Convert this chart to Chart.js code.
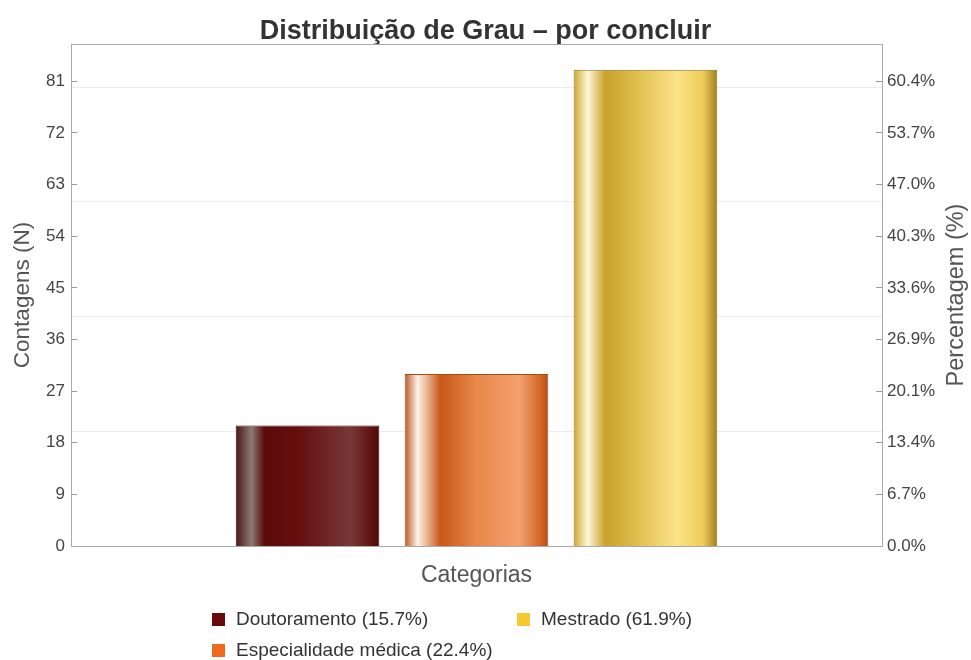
<!DOCTYPE html>
<html>
<head>
<meta charset="utf-8">
<script src="https://cdn.jsdelivr.net/npm/chart.js@4.4.1/dist/chart.umd.min.js"></script>
<style>
  body { margin: 0; background: #fff; }
  #wrap { position: relative; width: 971px; height: 660px; }
  #legend {
    position: absolute; left: 212px; top: 607px;
    display: grid; grid-template-rows: 24px 24px; grid-auto-flow: column;
    grid-template-columns: 305px auto; row-gap: 7px;
    font-family: 'Liberation Sans', Arial, sans-serif; font-size: 19px; color: #333;
  }
  .item { display: flex; align-items: center; white-space: nowrap; }
  .box { width: 13px; height: 13px; margin-right: 11px; }
</style>
</head>
<body>
<div id="wrap">
  <canvas id="myChart" width="971" height="660"></canvas>
  <div id="legend"></div>
</div>
<script>
const categories = ['Grau'];
const series = ['Doutoramento', 'Especialidade médica', 'Mestrado'];
const counts = [21, 30, 83];
const countTicks = [0, 9, 18, 27, 36, 45, 54, 63, 72, 81];
const percentTicks = ['0.0%', '6.7%', '13.4%', '20.1%', '26.9%', '33.6%', '40.3%', '47.0%', '53.7%', '60.4%'];
const gridValues = [20, 40, 60, 80];

const total = counts.reduce((a, b) => a + b, 0);
const legendColors = ['#6b0a0a', '#f06a1e', '#f6c930'];
const borderColors = ['#3c0808', '#a84a12', '#8c7020'];
// cylinder look: dark edge, highlight, body, lighter band, dark edge
const shades = [
  [[0, '#4a1616'], [0.11, '#8a7a72'], [0.2, '#5c0a0a'], [0.45, '#660f0f'], [0.8, '#783838'], [0.95, '#5e1010'], [1, '#4a0c0c']],
  [[0, '#b85a28'], [0.09, '#fff2e6'], [0.25, '#c85818'], [0.5, '#e8884a'], [0.8, '#f4a070'], [0.95, '#d06424'], [1, '#b0501a']],
  [[0, '#d0a830'], [0.1, '#fff8d8'], [0.22, '#c8a02a'], [0.45, '#e0c050'], [0.72, '#fbe388'], [0.9, '#efcc5a'], [1, '#a08020']]
];

const FONT = "'Liberation Sans', Arial, sans-serif";
Chart.defaults.font.family = FONT;

// legend (two columns, like the original)
const legend = document.getElementById('legend');
series.forEach((name, i) => {
  const pct = (counts[i] / total * 100).toFixed(1);
  const item = document.createElement('div');
  item.className = 'item';
  item.innerHTML = '<span class="box" style="background:' + legendColors[i] + '"></span>' + name + ' (' + pct + '%)';
  legend.appendChild(item);
});

const shine = {
  id: 'shine',
  beforeDatasetsDraw(chart) {
    const ctx = chart.ctx;
    chart.data.datasets.forEach((ds, i) => {
      chart.getDatasetMeta(i).data.forEach(bar => {
        const x0 = bar.x - bar.width / 2;
        const g = ctx.createLinearGradient(x0, 0, x0 + bar.width, 0);
        shades[i].forEach(s => g.addColorStop(s[0], s[1]));
        bar.options.backgroundColor = g;
      });
    });
  }
};

const frame = {
  id: 'frame',
  afterDatasetsDraw(chart) {
    const {ctx, chartArea: a} = chart;
    ctx.save();
    ctx.strokeStyle = '#a8a8a8';
    ctx.lineWidth = 1;
    ctx.strokeRect(Math.round(a.left) + 0.5, Math.round(a.top) + 0.5, Math.round(a.right - a.left), Math.round(a.bottom - a.top));
    ctx.restore();
  },
  afterDraw(chart) {
    const {ctx, chartArea: a} = chart;
    ctx.save();
    ctx.translate(957, (a.top + a.bottom) / 2);
    ctx.rotate(-Math.PI / 2);
    ctx.fillStyle = '#555';
    ctx.font = '23.5px ' + FONT;
    ctx.textAlign = 'center';
    ctx.textBaseline = 'middle';
    ctx.fillText('Percentagem (%)', 0, 0);
    ctx.restore();
  }
};

const yMax = 87.5;

new Chart(document.getElementById('myChart'), {
  type: 'bar',
  data: {
    labels: categories,
    datasets: series.map((name, i) => ({
      label: name,
      data: [counts[i]],
      backgroundColor: legendColors[i],
      borderColor: borderColors[i],
      borderWidth: 1,
      categoryPercentage: 0.625,
      barPercentage: 0.85
    }))
  },
  options: {
    responsive: false,
    animation: false,
    layout: { padding: { left: 0, right: 0, top: 0, bottom: 60 } },
    plugins: {
      legend: { display: false },
      tooltip: { enabled: false },
      title: {
        display: true,
        text: 'Distribuição de Grau – por concluir',
        color: '#333',
        font: { size: 27, weight: 'bold' },
        padding: { top: 15.6, bottom: -4 }
      }
    },
    scales: {
      x: {
        grid: { display: false },
        border: { display: false },
        ticks: { display: false },
        title: { display: true, text: 'Categorias', color: '#555', font: { size: 23 }, padding: { top: 0, bottom: 11 } },
        afterFit: s => { s.height = 54; }
      },
      yg: {
        position: 'left',
        min: 0,
        max: yMax,
        afterBuildTicks: s => { s.ticks = gridValues.map(v => ({ value: v })); },
        ticks: { display: false },
        grid: { color: '#ececec', drawTicks: false },
        border: { display: false },
        afterFit: s => { s.width = 0; }
      },
      y: {
        position: 'left',
        min: 0,
        max: yMax,
        afterBuildTicks: s => { s.ticks = countTicks.map(v => ({ value: v })); },
        ticks: { color: '#444', font: { size: 17 }, padding: 12 },
        grid: { drawOnChartArea: false, tickLength: -6, tickColor: '#999' },
        border: { display: false },
        title: { display: true, text: 'Contagens (N)', color: '#555', font: { size: 22.5 }, padding: { top: 9.5, bottom: 0 } },
        afterFit: s => { s.width = 71; }
      },
      y1: {
        position: 'right',
        min: 0,
        max: yMax,
        afterBuildTicks: s => { s.ticks = countTicks.map(v => ({ value: v })); },
        ticks: { color: '#444', font: { size: 17 }, padding: 11, callback: (v, i) => percentTicks[i] },
        grid: { drawOnChartArea: false, tickLength: -6, tickColor: '#999' },
        border: { display: false },
        afterFit: s => { s.width = 89; }
      }
    }
  },
  plugins: [shine, frame]
});
</script>
</body>
</html>
